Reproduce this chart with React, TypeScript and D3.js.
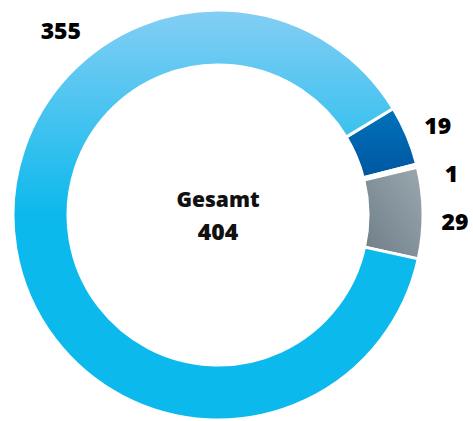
import React, { useEffect, useRef } from 'react';
import * as d3 from 'd3';

// Werte im Uhrzeigersinn, beginnend oben rechts
const categories = ['B', 'C', 'D', 'A'];
const values = [19, 1, 29, 355];
const valueLabels = ['19', '1', '29', '355'];
const totalTitle = 'Gesamt';
const totalValue = '404';

const fills = ['url(#gradDark)', '#8c9aa3', 'url(#gradGrey)', 'url(#gradLight)'];

const App = () => {
  const chartRef = useRef<HTMLDivElement>(null);

  useEffect(() => {
    d3.select(chartRef.current).select('svg').remove();

    const width = 473;
    const height = 421;
    const cx = 218;
    const cy = 215;
    const outerRadius = 205;
    const innerRadius = 150;
    const labelRadius = 237;
    const start = (58.7 * Math.PI) / 180;

    const svg = d3.select(chartRef.current)
      .append('svg')
      .attr('width', width)
      .attr('height', height)
      .style('position', 'absolute')
      .style('left', '0px')
      .style('top', '0px')
      .style('font-family', '"Open Sans", Lato, sans-serif');

    const defs = svg.append('defs');

    // userSpaceOnUse bezieht sich auf das verschobene <g>, also relativ zur Mitte
    const light = defs.append('linearGradient')
      .attr('id', 'gradLight')
      .attr('gradientUnits', 'userSpaceOnUse')
      .attr('x1', 0).attr('y1', -outerRadius)
      .attr('x2', 0).attr('y2', 0);
    light.append('stop').attr('offset', '0%').attr('stop-color', '#84cef4');
    light.append('stop').attr('offset', '100%').attr('stop-color', '#0cb9ec');

    const dark = defs.append('linearGradient')
      .attr('id', 'gradDark')
      .attr('x1', 0).attr('y1', 0).attr('x2', 0).attr('y2', 1);
    dark.append('stop').attr('offset', '0%').attr('stop-color', '#0072bb');
    dark.append('stop').attr('offset', '100%').attr('stop-color', '#0056a0');

    const grey = defs.append('linearGradient')
      .attr('id', 'gradGrey')
      .attr('x1', 1).attr('y1', 0).attr('x2', 0).attr('y2', 1);
    grey.append('stop').attr('offset', '0%').attr('stop-color', '#9ba8b0');
    grey.append('stop').attr('offset', '100%').attr('stop-color', '#6e7d86');

    const data = categories.map((c, i) => ({ cat: c, value: values[i], label: valueLabels[i], fill: fills[i] }));

    const pie = d3.pie<any>()
      .sort(null)
      .value(d => d.value)
      .startAngle(start)
      .endAngle(start + 2 * Math.PI);

    const arcs = pie(data);

    const arc = d3.arc<any>()
      .innerRadius(innerRadius)
      .outerRadius(outerRadius);

    const g = svg.append('g')
      .attr('transform', `translate(${cx},${cy})`);

    g.selectAll('path')
      .data(arcs)
      .enter()
      .append('path')
      .attr('d', arc)
      .attr('fill', d => d.data.fill)
      .attr('stroke', '#fff')
      .attr('stroke-width', 3)
      .attr('stroke-linejoin', 'miter');

    // Beschriftungen: kleine Segmente am Mittelpunkt, nach unten entzerrt
    const minGap = 48;
    const labels = arcs.map(d => {
      const big = d.data.value > 100;
      const a = big ? (-40.5 * Math.PI) / 180 : (d.startAngle + d.endAngle) / 2;
      const r = big ? 242 : labelRadius;
      return { d, big, x: Math.sin(a) * r, y: -Math.cos(a) * r + (big ? 0 : 3) };
    });
    const small = labels.filter(l => !l.big).sort((a, b) => a.y - b.y);
    for (let i = 1; i < small.length; i++) {
      if (small[i].y - small[i - 1].y < minGap) small[i].y = small[i - 1].y + minGap;
    }
    small.forEach(l => { l.x = Math.sqrt(Math.max(0, labelRadius * labelRadius - l.y * l.y)); });

    g.selectAll('text.val')
      .data(labels)
      .enter()
      .append('text')
      .attr('class', 'val')
      .attr('x', l => l.x)
      .attr('y', l => l.y)
      .attr('dy', '0.36em')
      .attr('text-anchor', 'middle')
      .attr('font-size', 23)
      .attr('font-weight', 800)
      .attr('fill', '#000')
      .text(l => l.d.data.label);

    g.append('text')
      .attr('x', 0)
      .attr('y', -16)
      .attr('dy', '0.36em')
      .attr('text-anchor', 'middle')
      .attr('font-size', 21)
      .attr('font-weight', 800)
      .attr('fill', '#111')
      .text(totalTitle);

    g.append('text')
      .attr('x', 0)
      .attr('y', 17)
      .attr('dy', '0.36em')
      .attr('text-anchor', 'middle')
      .attr('font-size', 23)
      .attr('font-weight', 800)
      .attr('fill', '#111')
      .text(totalValue);
  }, []);

  return <div ref={chartRef}></div>;
};

export default App;
